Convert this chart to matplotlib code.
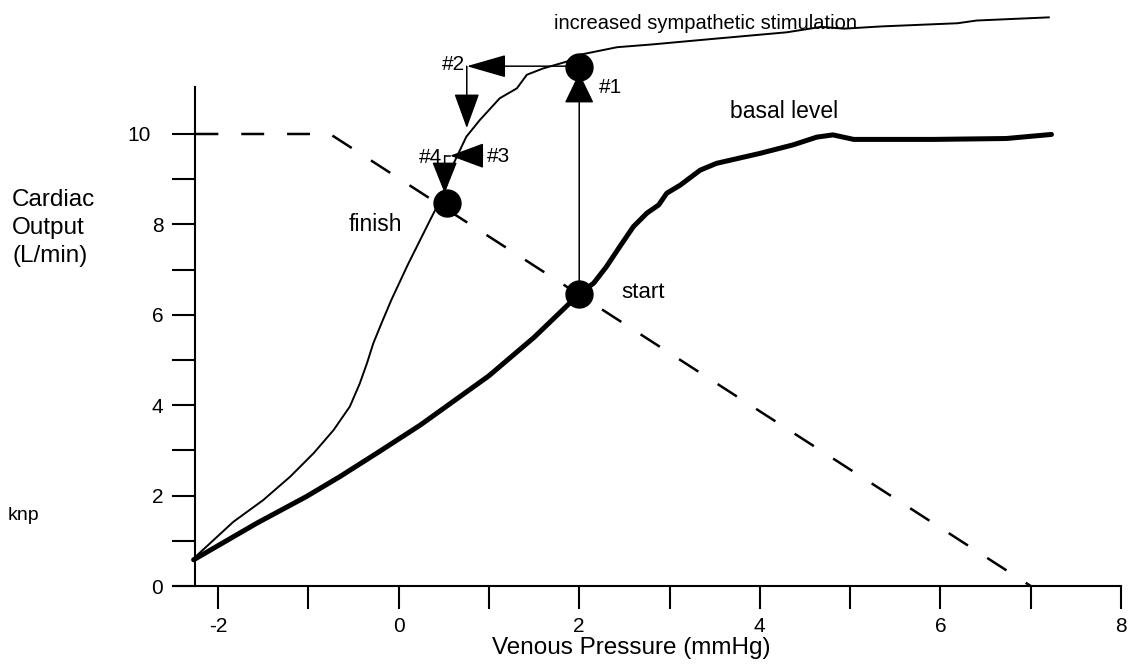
import matplotlib.pyplot as plt
import matplotlib.transforms as mtransforms

plt.rcParams['font.family'] = ['Liberation Sans', 'DejaVu Sans']
plt.rcParams['lines.scale_dashes'] = False

# basal level cardiac output curve (thick)
basal_x = [-2.27, -1.57, -1.02, -0.65, -0.24, 0.24, 1.0, 1.5, 2.0, 2.16, 2.3, 2.45, 2.6,
           2.75, 2.88, 2.97, 3.12, 3.34, 3.52, 4.0, 4.37, 4.63, 4.81, 5.04, 5.92, 6.73, 7.23]
basal_y = [0.58, 1.39, 1.98, 2.42, 2.94, 3.56, 4.65, 5.5, 6.46, 6.7, 7.06, 7.51, 7.95,
           8.25, 8.43, 8.69, 8.87, 9.2, 9.35, 9.57, 9.76, 9.93, 9.98, 9.88, 9.88, 9.9, 9.99]

# increased sympathetic stimulation curve (thin)
symp_x = [-2.27, -1.83, -1.5, -1.2, -0.94, -0.72, -0.54, -0.43, -0.35, -0.28, -0.19, -0.08,
          0.1, 0.35, 0.5, 0.61, 0.75, 0.9, 1.12, 1.31, 1.42, 1.6, 1.86, 2.0, 2.42, 2.8,
          3.46, 4.3, 4.68, 4.93, 5.35, 6.19, 6.4, 7.2]
symp_y = [0.61, 1.42, 1.9, 2.42, 2.94, 3.45, 3.97, 4.48, 4.93, 5.37, 5.81, 6.33,
          7.1, 8.1, 8.69, 9.35, 9.94, 10.31, 10.79, 11.01, 11.31, 11.45, 11.6, 11.75, 11.92, 11.98,
          12.1, 12.25, 12.37, 12.33, 12.38, 12.45, 12.51, 12.58]

# venous return curve (dashed)
vr_x = [-2.25, -0.76, 7.0]
vr_y = [10, 10, 0]

# operating points: start, #1, finish
dot_x = [2.0, 2.0, 0.535]
dot_y = [6.46, 11.49, 8.47]

# arrows #1..#4 (tail -> tip)
tail_x = [2.0, 2.0, 0.755, 0.93, 0.51]
tail_y = [6.46, 11.5, 11.5, 9.52, 9.52]
tip_x = [2.0, 0.755, 0.755, 0.57, 0.51]
tip_y = [11.35, 11.5, 10.13, 9.52, 8.69]
head_len = [19.4, 25, 22, 21.6, 20]
head_half = [9.4, 7.2, 8, 8, 8]

x_ticks = [-2, -1, 0, 1, 2, 3, 4, 5, 6, 7, 8]
x_labels = ['-2', '', '0', '', '2', '', '4', '', '6', '', '8']
y_ticks = [0, 1, 2, 3, 4, 5, 6, 7, 8, 9, 10]
y_labels = ['0', '', '2', '', '4', '', '6', '', '8', '', '10']

fig = plt.figure(figsize=(11.35, 6.65), dpi=100)
ax = fig.add_axes([172.85 / 1135, 79 / 665, 948.15 / 1135, 583.1 / 665])
ax.set_xlim(-2.5, 8.0)
ax.set_ylim(0, 12.9)

ax.plot(vr_x, vr_y, color='black', lw=1.8, dashes=(16.5, 16.5), clip_on=False)
ax.plot(basal_x, basal_y, color='black', lw=3.6, solid_joinstyle='round',
        solid_capstyle='round', clip_on=False)
ax.plot(symp_x, symp_y, color='black', lw=1.4, solid_joinstyle='round', clip_on=False)

# little connector between #3 and #4
ax.plot([tip_x[3], tail_x[4]], [tip_y[3], tail_y[4]], color='black', lw=1.1)

for i in range(len(tail_x)):
    ax.annotate('', xy=(tip_x[i], tip_y[i]), xytext=(tail_x[i], tail_y[i]),
                arrowprops=dict(arrowstyle='-|>,head_length=%g,head_width=%g' % (head_len[i], head_half[i]),
                                mutation_scale=1, color='black', lw=1.1,
                                shrinkA=0, shrinkB=0), annotation_clip=False)

ax.plot(dot_x, dot_y, 'o', color='black', ms=19.4, clip_on=False, zorder=5)

for s in ['top', 'right']:
    ax.spines[s].set_visible(False)
ax.spines['left'].set_position(('data', -2.25))
ax.spines['left'].set_bounds(0, 11.05)
ax.spines['bottom'].set_position(('data', 0))
ax.spines['bottom'].set_bounds(-2.5, 8)
for s in ['left', 'bottom']:
    ax.spines[s].set_linewidth(1.5)

ax.set_xticks(x_ticks)
ax.set_xticklabels(x_labels)
ax.set_yticks(y_ticks)
ax.set_yticklabels(y_labels)
ax.tick_params(direction='out', length=16.6, width=1.5, labelsize=15)
ax.tick_params(axis='y', pad=6.5)
ax.tick_params(axis='x', pad=5.5)

# the "10" label sits further left in the original
lbl10 = ax.get_yticklabels()[-1]
lbl10.set_transform(lbl10.get_transform() +
                    mtransforms.ScaledTranslation(-0.13, 0, fig.dpi_scale_trans))

ax.text(1.72, 12.45, 'increased sympathetic stimulation', fontsize=14.5, va='center')
ax.text(3.67, 10.5, 'basal level', fontsize=16.5, va='center')
ax.text(2.47, 6.5, 'start', fontsize=16, va='center')
ax.text(0.04, 8.0, 'finish', fontsize=16.5, va='center', ha='right')
ax.text(2.22, 11.02, '#1', fontsize=15, va='center')
ax.text(0.74, 11.53, '#2', fontsize=15, va='center', ha='right')
ax.text(0.98, 9.51, '#3', fontsize=15, va='center')
ax.text(0.48, 9.49, '#4', fontsize=15, va='center', ha='right')

fig.text(12 / 1135, 1 - 189 / 665, 'Cardiac\nOutput\n(L/min)', fontsize=17.5,
         va='top', ha='left', linespacing=1.35)
fig.text(8 / 1135, 1 - 515 / 665, 'knp', fontsize=14, va='center', ha='left')
fig.text(631 / 1135, 1 - 648 / 665, 'Venous Pressure (mmHg)', fontsize=17.5,
         va='center', ha='center')

fig.savefig('out.png', dpi=100)
